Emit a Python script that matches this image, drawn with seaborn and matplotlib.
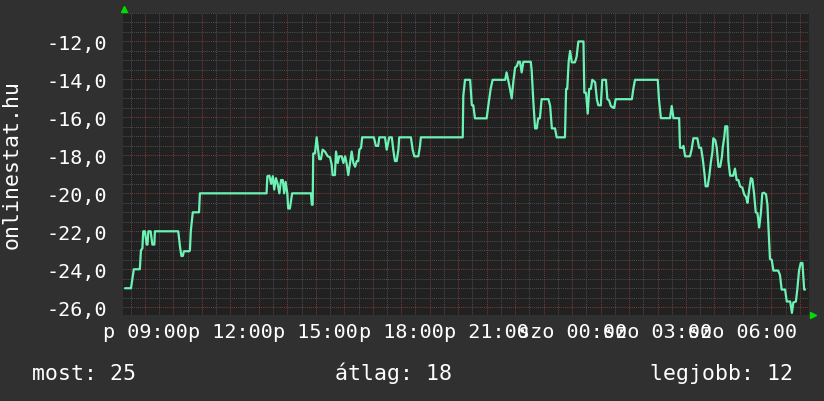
import matplotlib
matplotlib.use("Agg")
import matplotlib.pyplot as plt
import seaborn as sns
import pandas as pd
import numpy as np

# ---- data (hours since Friday 00:00, inverted rank) ----
hours = [
    8.30, 8.51, 8.58, 8.61, 8.82, 8.86, 8.91, 8.94, 9.00, 9.06, 9.09, 9.12, 9.20, 9.26, 9.33, 9.35,
    10.17, 10.23, 10.28, 10.33, 10.37, 10.56, 10.58, 10.61, 10.68, 10.90, 10.93,
    13.27, 13.30, 13.37, 13.43, 13.49, 13.54, 13.60, 13.66, 13.72, 13.78, 13.84, 13.89, 13.94, 14.00,
    14.03, 14.09, 14.17, 14.83, 14.86, 14.89, 14.91, 14.97, 15.03, 15.09, 15.12, 15.18, 15.24, 15.32,
    15.42, 15.50, 15.56, 15.59, 15.67, 15.71, 15.77, 15.82, 15.91, 15.97, 16.03, 16.08, 16.14, 16.20,
    16.26, 16.32, 16.38, 16.44, 16.49, 16.53, 16.59, 16.63, 17.04, 17.11, 17.19, 17.23, 17.43, 17.49,
    17.58, 17.67, 17.72, 17.78, 17.84, 17.90, 17.93, 18.34, 18.40, 18.46, 18.60, 18.66, 18.69, 20.16,
    20.18, 20.24, 20.42, 20.48, 20.53, 20.59, 21.00, 21.06, 21.14, 21.21, 21.65, 21.70, 21.76, 21.82,
    21.88, 21.94, 22.00, 22.06, 22.11, 22.17, 22.23, 22.29, 22.55, 22.58, 22.64, 22.70, 22.76, 22.81,
    22.87, 22.93, 23.17, 23.23, 23.29, 23.40, 23.46, 23.75, 23.79, 23.83, 23.88, 23.93, 23.99, 24.04,
    24.10, 24.16, 24.22, 24.40, 24.43, 24.49, 24.55, 24.60, 24.66, 24.71, 24.81, 24.87, 24.92, 25.01,
    25.06, 25.19, 25.24, 25.30, 25.36, 25.45, 25.48, 25.53, 26.10, 26.15, 26.21, 27.01, 27.05, 27.12,
    27.44, 27.50, 27.56, 27.76, 27.79, 27.87, 27.91, 27.97, 28.14, 28.20, 28.26, 28.40, 28.46, 28.53,
    28.59, 28.65, 28.69, 28.76, 28.82, 28.87, 28.93, 28.96, 29.03, 29.08, 29.14, 29.20, 29.26, 29.29,
    29.35, 29.38, 29.45, 29.49, 29.55, 29.66, 29.72, 29.78, 29.84, 29.90, 29.98, 30.04, 30.11, 30.16,
    30.22, 30.28, 30.33, 30.39, 30.45, 30.51, 30.57, 30.63, 30.68, 30.74, 30.81, 30.86, 30.89, 30.95,
    31.01, 31.07, 31.24, 31.30, 31.36, 31.48, 31.54, 31.66, 31.72, 31.77, 31.86, 31.91, 31.97, 32.03,
    32.09, 32.15, 32.18,
]
values = [
    -25, -25, -24.3, -24, -24, -23, -22.9, -22, -22, -22.7, -22.7, -22, -22, -22.7, -22.7, -22,
    -22, -22.8, -23.3, -23.3, -23.05, -23.05, -23.0, -22.0, -21.0, -21.0, -20.0,
    -20.0, -19.1, -19.07, -19.5, -19.1, -19.8, -19.2, -19.5, -20.0, -19.3, -19.3, -20.0, -19.4, -20.0,
    -20.8, -20.8, -20.0, -20.0, -20.6, -20.6, -17.9, -17.9, -17.05, -17.8, -18.2, -18.2, -17.7, -17.8,
    -18.05, -18.1, -18.5, -19.04, -19.04, -17.8, -18.4, -18.05, -18.05, -18.4, -18.05, -18.4, -19.04, -18.4,
    -17.8, -18.4, -18.6, -18.3, -18.3, -17.7, -17.6, -17.05, -17.05, -17.5, -17.5, -17.05, -17.05, -17.7,
    -17.05, -17.05, -17.7, -18.3, -18.3, -17.7, -17.05, -17.05, -17.7, -18.05, -18.05, -17.5, -17.05, -17.05,
    -14.86, -14.02, -14.02, -15.36, -15.36, -16.05, -16.05, -15.36, -14.5, -14.02, -14.02, -13.63, -14.07, -14.5,
    -15.0, -14.07, -13.37, -13.3, -13.07, -13.07, -13.63, -13.07, -13.07, -13.5, -15.18, -16.58, -16.58, -16.05,
    -16.05, -15.04, -15.04, -15.4, -16.58, -16.58, -17.05, -17.05, -14.5, -14.5, -13.07, -12.5, -13.1, -13.1,
    -13.1, -12.8, -12.0, -12.0, -14.7, -14.7, -15.8, -14.5, -14.5, -14.02, -14.15, -15.04, -15.36, -15.36,
    -14.02, -14.02, -15.04, -15.1, -15.4, -15.5, -15.5, -15.04, -15.04, -14.5, -14.02, -14.02, -15.04, -16.04,
    -16.04, -15.4, -16.04, -16.04, -17.6, -17.6, -17.5, -18.05, -18.05, -17.67, -17.1, -17.1, -17.6, -17.6,
    -18.2, -18.98, -19.63, -19.63, -19.07, -18.4, -17.8, -17.1, -17.2, -17.6, -18.6, -18.6, -18.1, -17.6,
    -16.97, -16.47, -16.47, -18.3, -19.07, -19.07, -18.7, -19.3, -19.3, -19.63, -19.7, -20.04, -20.2, -20.5,
    -19.8, -19.2, -19.25, -20.0, -21.0, -21.05, -21.8, -21.05, -20.0, -19.97, -20.05, -20.6, -21.6, -23.46,
    -23.5, -24.07, -24.07, -24.3, -25.07, -25.07, -25.7, -25.7, -26.3, -25.75, -25.7, -25.05, -24.07, -23.67,
    -23.67, -25.07, -25.07,
]

x_tick_hours = [9, 12, 15, 18, 21, 24, 27, 30]
x_tick_labels = ["p 09:00", "p 12:00", "p 15:00", "p 18:00", "p 21:00",
                 "szo 00:00", "szo 03:00", "szo 06:00"]
y_ticks = [-26, -24, -22, -20, -18, -16, -14, -12]
y_tick_labels = ["-26,0", "-24,0", "-22,0", "-20,0", "-18,0", "-16,0", "-14,0", "-12,0"]
y_title = "onlinestat.hu"
stat_names = ["most", "átlag", "legjobb"]
stat_values = [25, 18, 12]

# ---- style ----
sns.set_style("dark")
plt.rcParams["font.family"] = ["DejaVu Sans Mono", "DejaVu Sans"]

W, H = 824, 402
fig = plt.figure(figsize=(W / 100, H / 100), dpi=100, facecolor="#303030")
left, right, top, bottom = 123.3, 809.0, 14.0, 316.0
ax = fig.add_axes([left / W, 1 - bottom / H, (right - left) / W, (bottom - top) / H],
                  facecolor="#212121")

df = pd.DataFrame({"hour": hours, "rank": values})
sns.lineplot(data=df, x="hour", y="rank", ax=ax, color="#6cf2b4", linewidth=1.6,
             estimator=None, sort=False, zorder=3)

ax.set_xlim(8.24, 32.32)
ax.set_ylim(-26.41, -10.51)

major_x = list(range(9, 33))
lab_map = dict(zip(x_tick_hours, x_tick_labels))
ax.set_xticks(major_x)
ax.set_xticklabels([lab_map.get(h, "") for h in major_x])
ax.set_xticks(np.arange(8.5, 32.5, 1.0), minor=True)
ax.set_yticks(y_ticks)
ax.set_yticklabels(y_tick_labels)
ax.set_yticks(np.arange(-26.0, -10.4, 0.5), minor=True)

ax.set_axisbelow(True)
ax.grid(which="major", color="#7a3838", linestyle=(0, (1, 1)), linewidth=0.75)
ax.grid(which="minor", color="#4c4c4c", linestyle=(0, (1, 1)), linewidth=0.75)
ax.tick_params(which="both", length=0)
ax.tick_params(axis="x", pad=5, labelsize=14.5, colors="white")
ax.tick_params(axis="y", pad=12, labelsize=14.5, colors="white")
for s in ax.spines.values():
    s.set_visible(False)
ax.set_xlabel("")
ax.set_ylabel("")

# arrows
ax.plot([0.001], [1.012], marker="^", markersize=4.5, color="#00dd00",
        transform=ax.transAxes, clip_on=False, linestyle="none")
ax.plot([1.006], [0.0], marker=">", markersize=4.5, color="#00dd00",
        transform=ax.transAxes, clip_on=False, linestyle="none")

fig.text(12 / W, 1 - 165 / H, y_title, rotation=90, ha="center", va="center",
         fontsize=15.5, color="white")

base_y = 1 - 380 / H
fig.text(32 / W, base_y, f"{stat_names[0]}: {stat_values[0]}", ha="left", va="baseline",
         fontsize=15.5, color="white")
fig.text(335 / W, base_y, f"{stat_names[1]}: {stat_values[1]}", ha="left", va="baseline",
         fontsize=15.5, color="white")
fig.text(793 / W, base_y, f"{stat_names[2]}: {stat_values[2]}", ha="right", va="baseline",
         fontsize=15.5, color="white")

fig.savefig("out.png", dpi=100, facecolor=fig.get_facecolor())
